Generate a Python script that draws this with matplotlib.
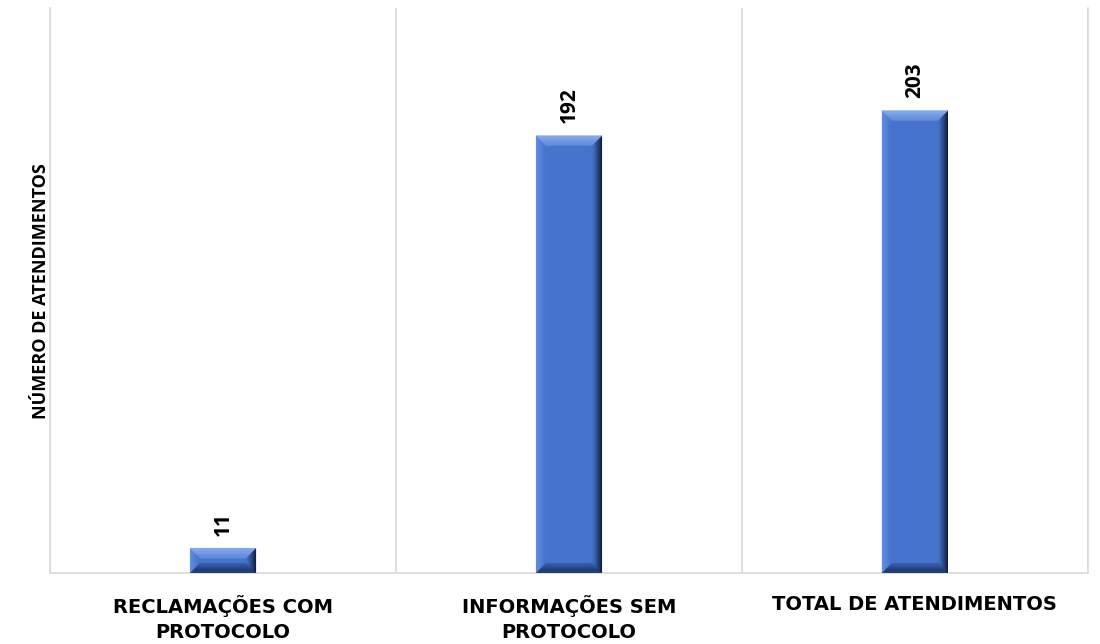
import matplotlib
matplotlib.use("Agg")
import matplotlib.pyplot as plt
import numpy as np
from matplotlib.patches import Polygon
from matplotlib.colors import to_rgb

categories = ["RECLAMAÇÕES COM\nPROTOCOLO", "INFORMAÇÕES SEM\nPROTOCOLO", "TOTAL DE ATENDIMENTOS"]
values = [11, 192, 203]
y_label = "NÚMERO DE ATENDIMENTOS"

FACE = "#4673CB"
LIGHT = "#8DB0F0"
LEFT = "#6390E0"
DARK = "#0A1630"
BOTTOM = "#1F3B75"

fig = plt.figure(figsize=(11, 6.44), dpi=100)
ax = fig.add_axes([0.0455, 0.110, 0.9435, 0.8776])

x = np.arange(len(categories))
bars = ax.bar(x, values, width=0.19, color=FACE, zorder=3, linewidth=0)
ax.set_xlim(-0.5, len(categories) - 0.5)
ax.set_ylim(0, 248)

# separators between categories
ax.set_xticks(x)
ax.set_xticks(np.arange(len(categories) + 1) - 0.5, minor=True)
ax.grid(True, which="minor", axis="x", color="#D9D9D9", linewidth=1.2, zorder=0)
ax.tick_params(axis="x", which="both", length=0, pad=16)
ax.set_yticks([])
ax.spines["top"].set_visible(False)
for s in ["left", "right", "bottom"]:
    ax.spines[s].set_color("#D9D9D9")
    ax.spines[s].set_linewidth(1.2)

ax.set_xticklabels(categories, fontsize=14, fontweight="bold", family="DejaVu Sans",
                   linespacing=1.35)
ax.set_ylabel(y_label, fontsize=13, fontweight="bold", family="Open Sans", labelpad=0)

fig.canvas.draw()
to_data = ax.transData.inverted()


def mix(c1, c2, t):
    a, b = np.array(to_rgb(c1)), np.array(to_rgb(c2))
    return tuple(np.clip(a + (b - a) * t, 0, 1))


def bevel(bar, size=10, steps=12):
    x0, y0 = bar.get_x(), bar.get_y()
    x1, y1 = x0 + bar.get_width(), y0 + bar.get_height()
    (px0, py0), (px1, py1) = ax.transData.transform([(x0, y0), (x1, y1)])
    s = min(size, (py1 - py0) / 2.2)
    for i in range(steps):
        a = s * i / steps
        b = s * (i + 1) / steps
        t = 1 - (i + 0.5) / steps
        top = [(px0 + a, py1 - a), (px1 - a, py1 - a), (px1 - b, py1 - b), (px0 + b, py1 - b)]
        bot = [(px0 + a, py0 + a), (px1 - a, py0 + a), (px1 - b, py0 + b), (px0 + b, py0 + b)]
        lef = [(px0 + a, py0 + a), (px0 + a, py1 - a), (px0 + b, py1 - b), (px0 + b, py0 + b)]
        rig = [(px1 - a, py0 + a), (px1 - a, py1 - a), (px1 - b, py1 - b), (px1 - b, py0 + b)]
        for pts, col in [(lef, mix(FACE, LEFT, t)),
                         (rig, mix(FACE, DARK, t ** 1.2)),
                         (top, mix(FACE, LIGHT, 0.4 + 0.6 * t)),
                         (bot, mix(FACE, BOTTOM, min(1, 0.35 + t)))]:
            poly = Polygon(to_data.transform(pts), closed=True, facecolor=col,
                           edgecolor=col, linewidth=0.3, zorder=4)
            ax.add_patch(poly)


for bar, v in zip(bars, values):
    bevel(bar)
    ax.annotate(f"{v}", (bar.get_x() + bar.get_width() / 2, bar.get_height()),
                xytext=(0, 9), textcoords="offset points", rotation=90,
                ha="center", va="bottom", fontsize=15, fontweight="bold",
                family="Open Sans", color="black")

fig.savefig("out.png", dpi=100)
